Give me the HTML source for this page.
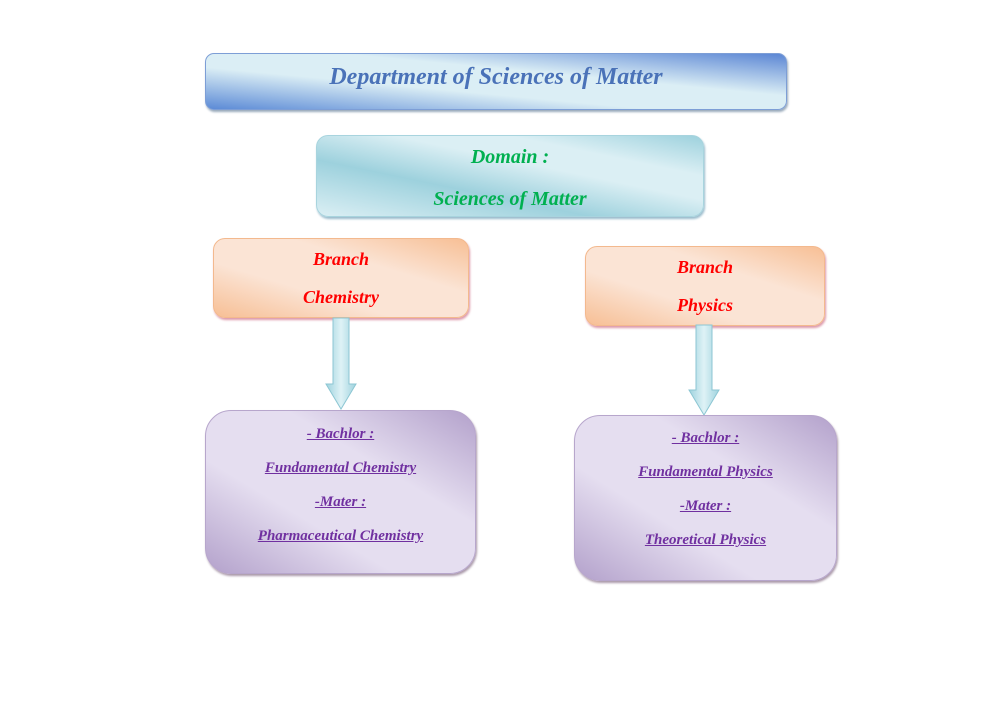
<!DOCTYPE html>
<html><head><meta charset="utf-8"><style>
body{margin:0;width:987px;height:723px;background:#fff;position:relative;overflow:hidden;font-family:"Liberation Serif",serif;font-weight:bold;font-style:italic}
.b{position:absolute;box-sizing:border-box;text-align:center}
.t{position:absolute;left:0;right:0;text-align:center;line-height:1}
.title{left:205px;top:53px;width:582px;height:57px;border-radius:9px;border:1.5px solid #7d9ed6;background:linear-gradient(to top right,#5b8ad6 0%,#dbeef5 38%,#dbeef5 62%,#5b86d4 100%);box-shadow:1px 2px 2px #9ab}
.dom{left:316px;top:135px;width:388px;height:82px;border-radius:12px;border:1.5px solid #a8d4de;background:linear-gradient(to top right,#dbeff4 0%,#9dd1dd 35%,#dbeff4 60%,#dbeff4 75%,#9dd1dd 100%);box-shadow:1px 2px 2px #9bc}
.br{border-radius:12px;border:1.5px solid #f3b98e;background:linear-gradient(to top right,#f7bf95 0%,#fbe4d5 35%,#fbe4d5 65%,#f7bf95 100%);box-shadow:1px 2px 2px #d9a}
.pu{border-radius:26px;border:1.5px solid #b7a6cc;background:linear-gradient(to top right,#b3a1cb 0%,#e5def0 35%,#e5def0 65%,#b3a1cb 100%);box-shadow:1px 2px 2px #a9a}
.pu .t{color:#7030a0;font-size:15px;text-decoration:underline}
.br .t{color:#ff0000;font-size:18px}
</style></head><body>
<div class="b title"><div class="t" style="top:11px;font-size:24px;color:#4a72b8">Department of Sciences of Matter</div></div>
<div class="b dom"><div class="t" style="top:11px;font-size:20px;color:#00b050">Domain :</div><div class="t" style="top:53px;font-size:20px;color:#00b050">Sciences of Matter</div></div>
<div class="b br" style="left:213px;top:238px;width:256px;height:80px"><div class="t" style="top:11px">Branch</div><div class="t" style="top:49px">Chemistry</div></div>
<div class="b br" style="left:585px;top:246px;width:240px;height:80px"><div class="t" style="top:11px">Branch</div><div class="t" style="top:49px">Physics</div></div>
<svg style="position:absolute;left:0;top:0" width="987" height="723">
<defs><linearGradient id="ag" x1="0" x2="1"><stop offset="0" stop-color="#9fd3de"/><stop offset="0.5" stop-color="#def2f6"/><stop offset="1" stop-color="#9fd3de"/></linearGradient></defs>
<polygon points="333,318 349,318 349,384 356,384 341,409 326,384 333,384" fill="url(#ag)" stroke="#8cc6d3" stroke-width="1"/>
<polygon points="696,325 712,325 712,390 719,390 704,415 689,390 696,390" fill="url(#ag)" stroke="#8cc6d3" stroke-width="1"/>
</svg>
<div class="b pu" style="left:205px;top:410px;width:271px;height:164px">
<div class="t" style="top:16px">- Bachlor :</div><div class="t" style="top:50px">Fundamental Chemistry</div><div class="t" style="top:84px">-Mater :</div><div class="t" style="top:118px">Pharmaceutical Chemistry</div></div>
<div class="b pu" style="left:574px;top:415px;width:263px;height:166px">
<div class="t" style="top:15px">- Bachlor :</div><div class="t" style="top:49px">Fundamental Physics</div><div class="t" style="top:83px">-Mater :</div><div class="t" style="top:117px">Theoretical Physics</div></div>
</body></html>
